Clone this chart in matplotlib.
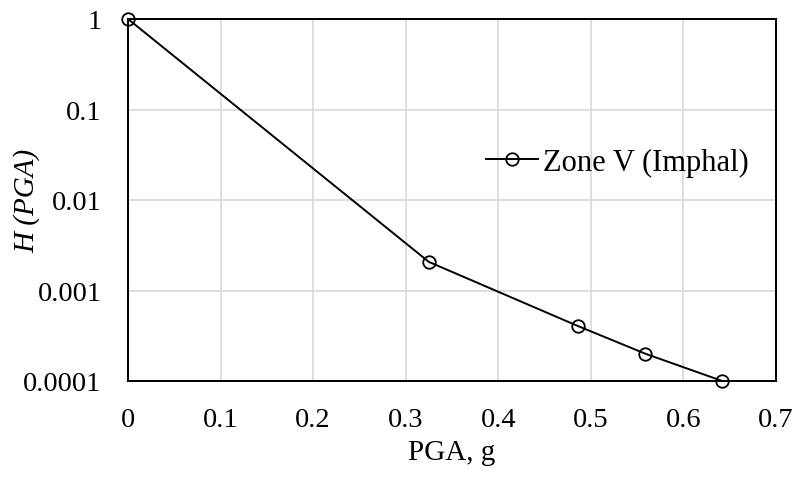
import numpy as np
import matplotlib
matplotlib.use('Agg')
import matplotlib.pyplot as plt

# Data
pga = [0.0, 0.325, 0.486, 0.559, 0.642]
hazard = [1.0, 0.00207, 0.000405, 0.0002, 0.0001]
series_name = 'Zone V (Imphal)'
x_ticks = [0, 0.1, 0.2, 0.3, 0.4, 0.5, 0.6, 0.7]
y_ticks = [0.0001, 0.001, 0.01, 0.1, 1]
y_labels = ['0.0001', '0.001', '0.01', '0.1', '1']

plt.rcParams['font.family'] = ['Liberation Serif', 'DejaVu Serif']

fig = plt.figure(figsize=(7.98, 4.81), dpi=100)
ax = fig.add_axes([128/798, 1 - 382/481, 648/798, 362/481])

ax.plot(pga, hazard, color='black', linewidth=1.4, marker='o', markersize=9,
        markerfacecolor='none', markeredgecolor='black', markeredgewidth=1.3,
        label=series_name, clip_on=False, zorder=3)

ax.set_yscale('log')
ax.set_xlim(0, 0.7)
ax.set_ylim(0.0001, 1)
ax.set_xticks(x_ticks)
ax.set_xticklabels([f'{t:g}' for t in x_ticks])
ax.set_yticks(y_ticks)
ax.set_yticklabels(y_labels)
ax.yaxis.set_minor_locator(matplotlib.ticker.NullLocator())
ax.tick_params(axis='both', length=0, labelsize=20.5)
ax.tick_params(axis='y', pad=19)
ax.tick_params(axis='x', pad=19)

ax.grid(True, color='#d9d9d9', linewidth=1.2)
ax.set_axisbelow(True)
for s in ax.spines.values():
    s.set_color('black')
    s.set_linewidth(1.4)

ax.set_xlabel('PGA, g', fontsize=21)
ax.xaxis.set_label_coords(0.5, -(440 - 382) / 362)
ax.set_ylabel('H (PGA)', fontsize=21, style='italic')
ax.yaxis.set_label_coords(-(128 - 40) / 648, 0.5)

ax.legend(loc='center left', bbox_to_anchor=(0.553, 0.605), frameon=False,
          fontsize=22, handlelength=1.7, handletextpad=0.15, borderpad=0,
          borderaxespad=0)

fig.savefig('out.png', dpi=100)
